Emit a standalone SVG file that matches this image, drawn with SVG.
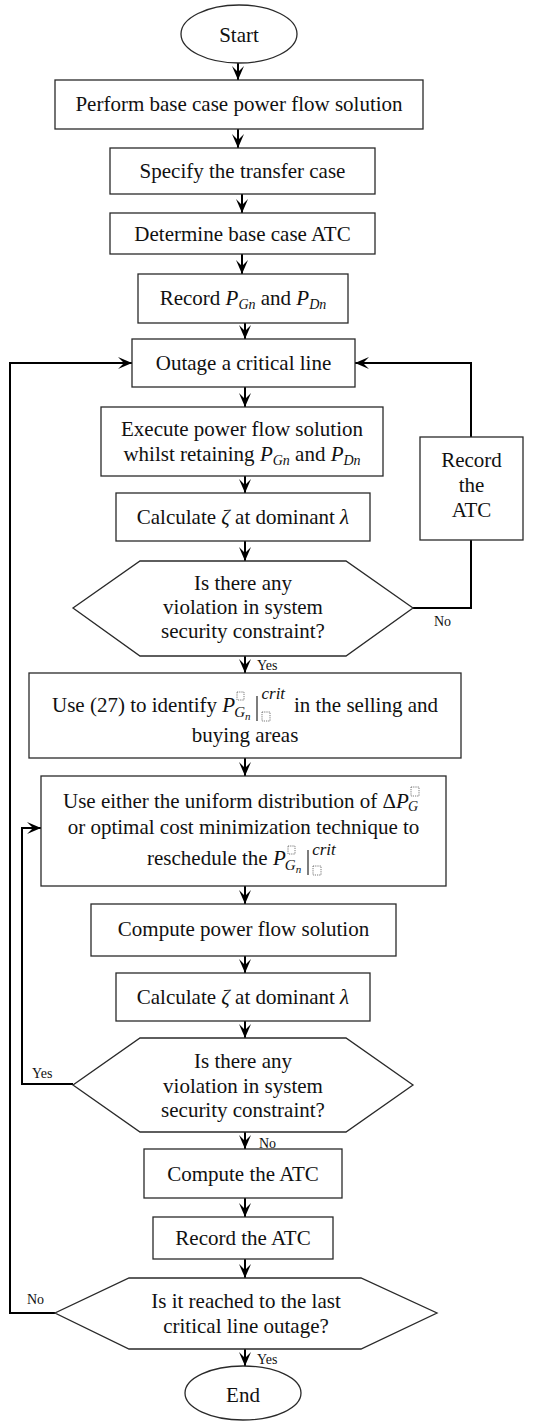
<svg xmlns="http://www.w3.org/2000/svg" width="542" height="1421" viewBox="0 0 542 1421">
<defs>
<style>
.n{fill:#fff;stroke:#2a2a2a;stroke-width:1.3}
.t{font-family:"Liberation Serif","Times New Roman",serif;font-size:21px;fill:#111;text-anchor:middle}
.ts{font-family:"Liberation Serif","Times New Roman",serif;font-size:21px;fill:#111}
.i{font-style:italic}
.lb{font-family:"Liberation Serif","Times New Roman",serif;font-size:14px;fill:#111}
.c{fill:none;stroke:#000;stroke-width:2}
.db{fill:none;stroke:#555;stroke-width:0.8;stroke-dasharray:1.2 1}
.bar{stroke:#111;stroke-width:1.1}
</style>
<marker id="ah" markerUnits="userSpaceOnUse" viewBox="-14 -7 15 14" refX="0" refY="0" markerWidth="15" markerHeight="14" orient="auto">
<path d="M0,0 L-14,-6 L-8,0 L-14,6 Z" fill="#000"/>
</marker>
</defs>

<g id="connectors">
<line class="c" x1="238" y1="63" x2="238" y2="80" marker-end="url(#ah)"/>
<line class="c" x1="238" y1="129" x2="238" y2="148" marker-end="url(#ah)"/>
<line class="c" x1="242" y1="194" x2="242" y2="213" marker-end="url(#ah)"/>
<line class="c" x1="242" y1="254" x2="242" y2="274" marker-end="url(#ah)"/>
<line class="c" x1="245" y1="323" x2="245" y2="339" marker-end="url(#ah)"/>
<line class="c" x1="245" y1="387" x2="245" y2="407" marker-end="url(#ah)"/>
<line class="c" x1="245" y1="476" x2="245" y2="493" marker-end="url(#ah)"/>
<line class="c" x1="245" y1="541" x2="245" y2="561" marker-end="url(#ah)"/>
<line class="c" x1="245" y1="656" x2="245" y2="673" marker-end="url(#ah)"/>
<line class="c" x1="245" y1="758" x2="245" y2="776" marker-end="url(#ah)"/>
<line class="c" x1="245" y1="886" x2="245" y2="904" marker-end="url(#ah)"/>
<line class="c" x1="245" y1="956" x2="245" y2="973" marker-end="url(#ah)"/>
<line class="c" x1="245" y1="1021" x2="245" y2="1038" marker-end="url(#ah)"/>
<line class="c" x1="245" y1="1132" x2="245" y2="1149" marker-end="url(#ah)"/>
<line class="c" x1="245" y1="1198" x2="245" y2="1217" marker-end="url(#ah)"/>
<line class="c" x1="245" y1="1259" x2="245" y2="1278" marker-end="url(#ah)"/>
<line class="c" x1="245" y1="1349" x2="245" y2="1366" marker-end="url(#ah)"/>
<polyline class="c" points="413,608 471,608 471,540"/>
<polyline class="c" points="471,437 471,363 355,363" marker-end="url(#ah)"/>
<polyline class="c" points="73,1084 22,1084 22,828 41,828" marker-end="url(#ah)"/>
<polyline class="c" points="55,1313 10,1313 10,363 132,363" marker-end="url(#ah)"/>
<text class="lb" x="434" y="626">No</text>
<text class="lb" x="257" y="670">Yes</text>
<text class="lb" x="32" y="1078">Yes</text>
<text class="lb" x="259" y="1148">No</text>
<text class="lb" x="27" y="1304">No</text>
<text class="lb" x="257" y="1364">Yes</text>
</g>

<g id="start">
<ellipse class="n" cx="239" cy="34" rx="58" ry="29"/>
<text class="t" x="239" y="42">Start</text>
</g>

<g id="base-flow">
<rect class="n" x="55" y="80" width="368" height="49"/>
<text class="t" x="239" y="111">Perform base case power flow solution</text>
</g>

<g id="transfer-case">
<rect class="n" x="110" y="148" width="265" height="46"/>
<text class="t" x="242.5" y="178">Specify the transfer case</text>
</g>

<g id="base-atc">
<rect class="n" x="110" y="213" width="265" height="41"/>
<text class="t" x="242.5" y="241">Determine base case ATC</text>
</g>

<g id="record-pgn">
<rect class="n" x="138" y="274" width="210" height="49"/>
<text class="t" x="243" y="305">Record <tspan class="i">P</tspan><tspan class="i" font-size="14" dy="4">Gn</tspan><tspan dy="-4"> and </tspan><tspan class="i">P</tspan><tspan class="i" font-size="14" dy="4">Dn</tspan></text>
</g>

<g id="outage">
<rect class="n" x="132" y="339" width="223" height="48"/>
<text class="t" x="243.5" y="370">Outage a critical line</text>
</g>

<g id="execute-flow">
<rect class="n" x="101" y="407" width="282" height="69"/>
<text class="t" x="242" y="436">Execute power flow solution</text>
<text class="t" x="242" y="461">whilst retaining <tspan class="i">P</tspan><tspan class="i" font-size="14" dy="4">Gn</tspan><tspan dy="-4"> and </tspan><tspan class="i">P</tspan><tspan class="i" font-size="14" dy="4">Dn</tspan></text>
</g>

<g id="record-atc-loop">
<rect class="n" x="420" y="437" width="103" height="103"/>
<text class="t" x="471.5" y="467">Record</text>
<text class="t" x="471.5" y="492">the</text>
<text class="t" x="471.5" y="517">ATC</text>
</g>

<g id="calc-zeta-1">
<rect class="n" x="116" y="493" width="254" height="48"/>
<text class="t" x="243" y="524">Calculate <tspan class="i">ζ</tspan> at dominant <tspan class="i">λ</tspan></text>
</g>

<g id="check-violation-1">
<polygon class="n" points="140,561 346,561 413,608 346,656 140,656 73,608"/>
<text class="t" x="243" y="590">Is there any</text>
<text class="t" x="243" y="614">violation in system</text>
<text class="t" x="243" y="638">security constraint?</text>
</g>

<g id="identify-pgn">
<rect class="n" x="29" y="673" width="432" height="85"/>
<text class="ts" x="52" y="712">Use (27) to identify <tspan class="i">P</tspan><tspan class="i" font-size="15" dx="-1" dy="5">G</tspan><tspan class="i" font-size="11" dy="3">n</tspan><tspan class="i" font-size="17" dx="11" dy="-21">crit</tspan></text>
<rect class="db" x="237" y="692" width="7" height="8"/>
<line class="bar" x1="257" y1="696" x2="257" y2="721"/>
<rect class="db" x="262" y="712" width="8" height="9"/>
<text class="ts" x="438" y="712" text-anchor="end">in the selling and</text>
<text class="t" x="245" y="742">buying areas</text>
</g>

<g id="reschedule">
<rect class="n" x="41" y="776" width="405" height="110"/>
<text class="ts" x="63" y="808">Use either the uniform distribution of Δ<tspan class="i">P</tspan><tspan class="i" font-size="14" dx="-1" dy="3">G</tspan></text>
<rect class="db" x="411" y="787" width="8" height="9"/>
<text class="t" x="243.5" y="834">or optimal cost minimization technique to</text>
<text class="ts" x="147" y="865">reschedule the <tspan class="i">P</tspan><tspan class="i" font-size="15" dx="-1" dy="5">G</tspan><tspan class="i" font-size="11" dy="3">n</tspan><tspan class="i" font-size="17" dx="11" dy="-18">crit</tspan></text>
<rect class="db" x="288" y="846" width="7" height="8"/>
<line class="bar" x1="308" y1="850" x2="308" y2="875"/>
<rect class="db" x="313" y="866" width="8" height="9"/>
</g>

<g id="compute-flow">
<rect class="n" x="91" y="904" width="305" height="52"/>
<text class="t" x="243.5" y="936">Compute power flow solution</text>
</g>

<g id="calc-zeta-2">
<rect class="n" x="116" y="973" width="254" height="48"/>
<text class="t" x="243" y="1004">Calculate <tspan class="i">ζ</tspan> at dominant <tspan class="i">λ</tspan></text>
</g>

<g id="check-violation-2">
<polygon class="n" points="140,1038 346,1038 413,1085 346,1132 140,1132 73,1085"/>
<text class="t" x="243" y="1068">Is there any</text>
<text class="t" x="243" y="1093">violation in system</text>
<text class="t" x="243" y="1117">security constraint?</text>
</g>

<g id="compute-atc">
<rect class="n" x="144" y="1149" width="198" height="49"/>
<text class="t" x="243" y="1181">Compute the ATC</text>
</g>

<g id="record-atc">
<rect class="n" x="153" y="1217" width="180" height="42"/>
<text class="t" x="243" y="1245">Record the ATC</text>
</g>

<g id="last-outage">
<polygon class="n" points="129,1278 361,1278 437,1313 361,1349 129,1349 55,1313"/>
<text class="t" x="246" y="1308">Is it reached to the last</text>
<text class="t" x="246" y="1333">critical line outage?</text>
</g>

<g id="end">
<ellipse class="n" cx="243" cy="1393" rx="58" ry="27"/>
<text class="t" x="243" y="1402">End</text>
</g>
</svg>
